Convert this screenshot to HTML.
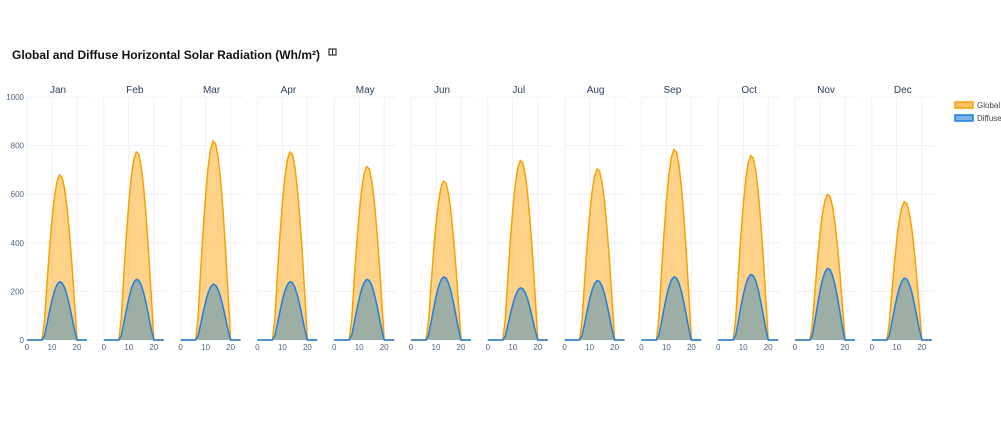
<!DOCTYPE html><html><head><meta charset="utf-8"><style>body{margin:0;background:#fff}svg{font-family:"Liberation Sans",sans-serif}</style></head><body>
<svg id="s" width="1001" height="442" xmlns="http://www.w3.org/2000/svg">
<text x="12" y="59" font-size="12" font-weight="bold" fill="#111" textLength="308">Global and Diffuse Horizontal Solar Radiation (Wh/m²)</text>
<rect x="329" y="49" width="7" height="6" fill="none" stroke="#333" stroke-width="1.2"/><line x1="332.5" y1="49" x2="332.5" y2="55" stroke="#333"/>
<g id="g"></g>
<rect x="955" y="102" width="18" height="6" fill="#fdc56b" stroke="#f9a000" stroke-width="1.5"/>
<text x="977" y="108" font-size="8" fill="#444">Global</text>
<rect x="955" y="115" width="18" height="6" fill="#7db3e8" stroke="#1a7fe6" stroke-width="1.5"/>
<text x="977" y="121" font-size="8" fill="#444">Diffuse</text>
</svg>
<script>
const M=["Jan","Feb","Mar","Apr","May","Jun","Jul","Aug","Sep","Oct","Nov","Dec"];
const G=[680,775,820,775,715,655,740,705,785,760,600,570];
const D=[240,250,230,240,250,260,215,245,260,270,295,255];
const y0=340,k=0.243;let h='';
for(let i=0;i<12;i++){const x0=27+i*76.8,W=62;
 for(let v=200;v<=1000;v+=200)h+=`<line x1="${x0}" x2="${x0+W}" y1="${y0-v*k}" y2="${y0-v*k}" stroke="#eef0f6"/>`;
 for(let t of[0,10,20])h+=`<line x1="${x0+t*2.5}" x2="${x0+t*2.5}" y1="97" y2="${y0}" stroke="#eef0f6"/>`;
 h+=`<text x="${x0+31}" y="93" font-size="10" fill="#2a3f5f" text-anchor="middle">${M[i]}</text>`;
 for(let t of[0,10,20])h+=`<text x="${x0+t*2.5}" y="350" font-size="8" fill="#506784" text-anchor="middle">${t}</text>`;
 function path(pk,a,b,p){let pts=[];for(let hr=0;hr<=24;hr++){let v=0;if(hr>a&&hr<b)v=pk*Math.pow(Math.sin(Math.PI*(hr-a)/(b-a)),p);pts.push([x0+hr*2.5,y0-v*k]);}return pts;}
 const g=path(G[i],6.5,20,1.0),d=path(D[i],6.5,20,1.2);
 const ps=a=>a.map(p=>p[0].toFixed(1)+','+p[1].toFixed(1)).join(' ');
 h+=`<polygon points="${x0},${y0} ${ps(g)} ${x0+60},${y0}" fill="rgba(253,175,40,0.55)"/><polyline points="${ps(g)}" fill="none" stroke="#f9a000" stroke-width="1.5"/>`;
 h+=`<polygon points="${x0},${y0} ${ps(d)} ${x0+60},${y0}" fill="rgba(40,130,200,0.45)"/><polyline points="${ps(d)}" fill="none" stroke="#1a7fe6" stroke-width="1.5"/>`;
}
for(let v=0;v<=1000;v+=200)h+=`<text x="24" y="${y0-v*k+3}" font-size="8" fill="#506784" text-anchor="end">${v}</text>`;
document.getElementById('g').innerHTML=h;
</script></body></html>
